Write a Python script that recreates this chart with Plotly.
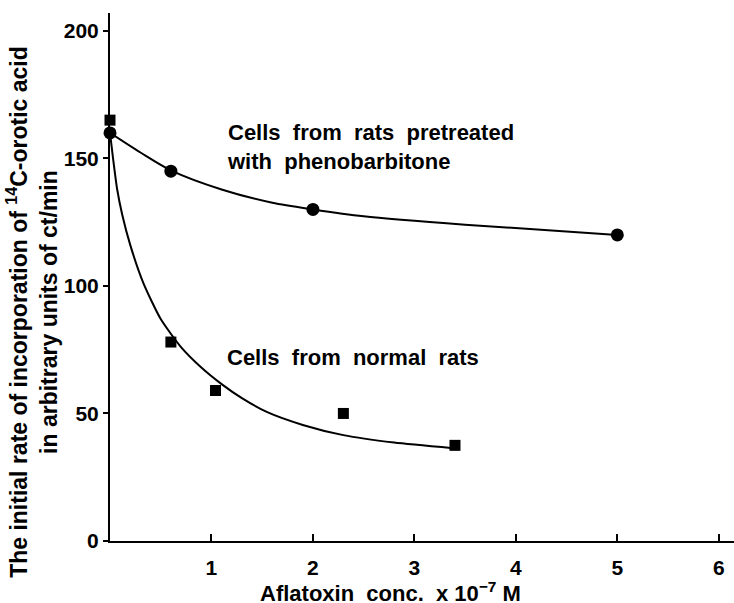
import plotly.graph_objects as go

# Measured data points
pheno_x = [0, 0.6, 2.0, 5.0]
pheno_y = [160, 145, 130, 120]
normal_x = [0, 0.6, 1.04, 2.3, 3.4]
normal_y = [165, 78, 59, 50, 37.5]

# Fitted curves
pheno_curve_x = [0, 0.3, 0.6, 1.1, 1.6, 2.0, 2.5, 3.5, 5.0]
pheno_curve_y = [160, 152.3, 145.3, 137.8, 132.6, 130, 127.3, 124, 120]
normal_curve_x = [0, 0.03, 0.07, 0.12, 0.2, 0.33, 0.5, 0.7, 0.9, 1.1, 1.3, 1.55, 1.9, 2.3, 2.8, 3.38]
normal_curve_y = [160, 150, 138, 128, 116, 101, 87, 76, 68, 61.5, 56, 50.5, 45.5, 41.5, 38.6, 36.4]

x_ticks = [1, 2, 3, 4, 5, 6]
y_ticks = [0, 50, 100, 150, 200]

FONT = "Liberation Sans"

fig = go.Figure()
fig.add_trace(go.Scatter(x=pheno_curve_x, y=pheno_curve_y, mode="lines",
                         line=dict(color="black", width=2, shape="spline", smoothing=0.8),
                         cliponaxis=False, showlegend=False, hoverinfo="skip"))
fig.add_trace(go.Scatter(x=normal_curve_x, y=normal_curve_y, mode="lines",
                         line=dict(color="black", width=2, shape="spline", smoothing=0.6),
                         cliponaxis=False, showlegend=False, hoverinfo="skip"))
fig.add_trace(go.Scatter(x=pheno_x, y=pheno_y, mode="markers",
                         marker=dict(symbol="circle", size=13, color="black"),
                         cliponaxis=False, showlegend=False))
fig.add_trace(go.Scatter(x=normal_x, y=normal_y, mode="markers",
                         marker=dict(symbol="square", size=11, color="black"),
                         cliponaxis=False, showlegend=False))

fig.update_layout(
    width=734, height=603,
    margin=dict(l=110, r=0, t=13, b=62),
    plot_bgcolor="white", paper_bgcolor="white",
    font=dict(family=FONT, color="black", size=21, weight="bold"),
    xaxis=dict(range=[0, 6.15], tickvals=x_ticks, ticks="inside", ticklen=7,
               tickwidth=2, tickcolor="black", showline=True, linecolor="black",
               linewidth=2, showgrid=False, zeroline=False, ticklabelstandoff=7,
               tickfont=dict(family=FONT, size=21, weight="bold")),
    yaxis=dict(range=[0, 207], tickvals=y_ticks, ticks="outside", ticklen=5,
               tickwidth=2, tickcolor="black", showline=True, linecolor="black",
               linewidth=2, showgrid=False, zeroline=False,
               tickfont=dict(family=FONT, size=21, weight="bold")),
    annotations=[
        dict(x=1.134, y=154.4, xref="x", yref="y", xanchor="left", yanchor="middle",
             align="left", showarrow=False,
             text="Cells  from  rats  pretreated<br>with  phenobarbitone",
             font=dict(family=FONT, size=22, weight="bold")),
        dict(x=1.134, y=72.1, xref="x", yref="y", xanchor="left", yanchor="middle",
             align="left", showarrow=False,
             text="Cells  from  normal  rats",
             font=dict(family=FONT, size=22, weight="bold")),
        dict(x=0.449, y=-0.097, xref="paper", yref="paper", xanchor="center",
             yanchor="middle", showarrow=False,
             text="Aflatoxin  conc.  x 10<sup>−7</sup> M",
             font=dict(family=FONT, size=22, weight="bold")),
        dict(x=-0.125, y=0.434, xref="paper", yref="paper", xanchor="center",
             yanchor="middle", showarrow=False, textangle=-90,
             text="The initial rate of incorporation of <sup>14</sup>C-orotic acid<br>in arbitrary units of ct/min",
             font=dict(family=FONT, size=23, weight="bold")),
    ],
)

fig.write_html("out.html")
